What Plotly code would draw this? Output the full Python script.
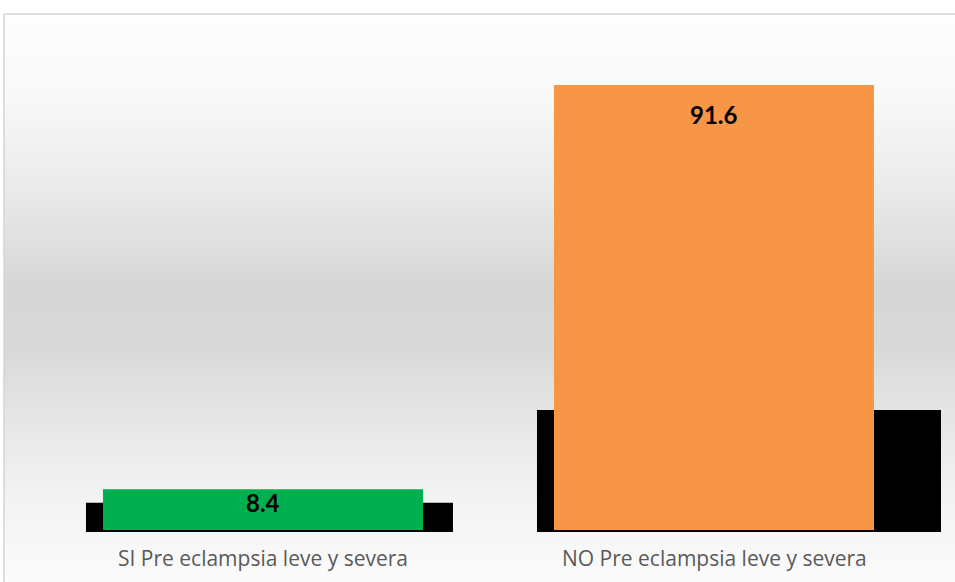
import plotly.graph_objects as go

# Datos
categorias = ["SI Pre eclampsia leve y severa", "NO Pre eclampsia leve y severa"]
porcentajes = [8.4, 91.6]
sombra = [5.6, 24.7]          # bloque negro detrás de cada barra
colores = ["#00B050", "#F79646"]

W, H = 955, 582
M_B = 50
PLOT_H = H - M_B
PX_PER_UNIT = 4.858
ZERO_PX = 530                 # pixel row of y = 0
y_min = -(PLOT_H - ZERO_PX) / PX_PER_UNIT
y_max = y_min + PLOT_H / PX_PER_UNIT

CAT_STEP = 451.0
CAT0_PX = 263.0
x_min = -CAT0_PX / CAT_STEP
x_max = (W - CAT0_PX) / CAT_STEP

fig = go.Figure()

# black backing blocks
fig.add_trace(go.Bar(
    x=[0, 1], y=[v + 0.4 for v in sombra], base=[-0.4, -0.4],
    width=[0.8137, 0.8958], offset=[-0.3925, -0.3925],
    marker=dict(color="#000000", line=dict(width=0)),
    hoverinfo="skip", showlegend=False,
))

# main bars
fig.add_trace(go.Bar(
    x=[0, 1], y=porcentajes,
    width=0.7095,
    marker=dict(color=colores, line=dict(width=0)),
    showlegend=False,
))

# value labels
shifts = [-13, -29]
for i, (v, s) in enumerate(zip(porcentajes, shifts)):
    fig.add_annotation(
        x=i, y=v, text=f"<b>{v:.1f}</b>", showarrow=False,
        yanchor="middle", yshift=s,
        font=dict(family="Lato", size=24, color="#000000"),
    )

# category labels
for i, c in enumerate(categorias):
    fig.add_annotation(
        x=i, y=1 - 558 / PLOT_H, xref="x", yref="paper", text=c, showarrow=False,
        yanchor="middle",
        font=dict(family="Open Sans", size=21, color="#595959"),
    )

# vertical gradient background for the chart area
def grad(py):
    stops = [(14, 253), (100, 248), (200, 232), (290, 214), (350, 217),
             (420, 230), (500, 243), (582, 251)]
    for (a, ca), (b, cb) in zip(stops, stops[1:]):
        if a <= py <= b:
            t = (py - a) / (b - a)
            return ca + (cb - ca) * t
    return stops[-1][1]

shapes = []
top_px = 14
step = 4
py = top_px
while py < H:
    g = int(round(grad(py + step / 2)))
    shapes.append(dict(
        type="rect", xref="paper", yref="paper", layer="below",
        x0=4 / W, x1=1.01, y0=1 - (py + step) / PLOT_H, y1=1 - py / PLOT_H,
        fillcolor=f"rgb({g},{g},{g})", line=dict(width=0),
    ))
    py += step

# chart-area border (left and top)
shapes.append(dict(type="line", xref="paper", yref="paper", layer="above",
                   x0=4 / W, x1=4 / W, y0=1 - H / PLOT_H, y1=1 - 14 / PLOT_H,
                   line=dict(color="#D4D4D4", width=1.5)))
shapes.append(dict(type="line", xref="paper", yref="paper", layer="above",
                   x0=4 / W, x1=1.01, y0=1 - 14 / PLOT_H, y1=1 - 14 / PLOT_H,
                   line=dict(color="#D4D4D4", width=1.5)))

fig.update_layout(
    width=W, height=H,
    margin=dict(l=0, r=0, t=0, b=M_B),
    paper_bgcolor="#FFFFFF",
    plot_bgcolor="rgba(0,0,0,0)",
    barmode="overlay",
    shapes=shapes,
    xaxis=dict(range=[x_min, x_max], showticklabels=False, showgrid=False,
               zeroline=False, showline=False, fixedrange=True),
    yaxis=dict(range=[y_min, y_max], showticklabels=False, showgrid=False,
               zeroline=False, showline=False, fixedrange=True),
)

fig.write_html("out.html")
